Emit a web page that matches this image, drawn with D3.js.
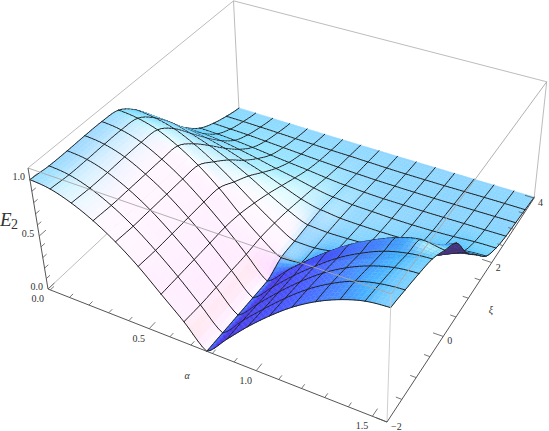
<!DOCTYPE html>
<html>
<head>
<meta charset="utf-8">
<script src="https://cdn.jsdelivr.net/npm/d3@7"></script>
<style>
  html, body { margin: 0; padding: 0; background: #fff; }
  svg { display: block; }
  text { font-family: "Liberation Serif", serif; fill: #333; }
</style>
</head>
<body>
<div id="chart"></div>
<script>
const width = 549, height = 431

const alphaNodes = [0, .098, .196, .295, .393, .491, .589, .687, .785, .884, .982, 1.08, 1.178, 1.276, 1.374, 1.473, 1.571]
const xiNodes = [-2, -1.538, -1.077, -.615, -.154, .308, .769, 1.231, 1.692, 2.154, 2.615, 3.077, 3.538, 4]

// E2, one row per xi node, one column per alpha node
const E = [
  [1, .98, .92, .83, .71, .56, .38, .2, 0, .19, .38, .55, .7, .82, .91, .97, .99],
  [.985, .966, .91, .82, .7, .55, .38, .19, 0, .19, .37, .54, .69, .81, .9, .95, .97],
  [.985, .966, .91, .82, .7, .55, .38, .19, 0, .18, .36, .525, .67, .785, .87, .925, .945],
  [.99, .97, .915, .82, .7, .55, .38, .19, 0, .175, .35, .505, .645, .755, .84, .89, .91],
  [.99, .97, .915, .82, .7, .55, .38, .19, 0, .17, .335, .485, .615, .72, .805, .855, .83],
  [.97, .95, .9, .81, .69, .54, .36, .2, .07, .09, .17, .26, .34, .42, .5, .58, .74],
  [.85, .83, .785, .7, .59, .46, .32, .19, .08, .08, .11, .15, .2, .26, .33, .42, .5],
  [.67, .66, .615, .555, .475, .38, .27, .17, .09, .08, .085, .095, .115, .15, .21, .3, .33],
  [.48, .47, .445, .4, .34, .28, .21, .14, .095, .075, .07, .07, .075, .09, .115, .15, .165],
  [.31, .305, .29, .26, .225, .185, .15, .11, .08, .065, .06, .055, .055, .06, .07, .085, .09],
  [.18, .176, .166, .15, .13, .112, .095, .075, .06, .05, .045, .045, .045, .047, .05, .052, .055],
  [.105, .1, .095, .086, .076, .066, .057, .048, .04, .035, .033, .032, .032, .034, .036, .038, .04],
  [.055, .054, .05, .046, .04, .036, .032, .03, .026, .022, .02, .02, .02, .022, .024, .025, .025],
  [.02, .02, .018, .017, .015, .014, .013, .012, .011, .01, .01, .01, .01, .01, .01, .01, .01]
]

const alphaTicks = [0, .1, .2, .3, .4, .5, .6, .7, .8, .9, 1, 1.1, 1.2, 1.3, 1.4, 1.5]
const alphaLabels = [0.5, 1.0, 1.5]
const xiTicks = [-2, -1.5, -1, -.5, 0, .5, 1, 1.5, 2, 2.5, 3, 3.5, 4]
const xiLabels = [-2, 0, 2, 4]
const eTicks = [0, .1, .2, .3, .4, .5, .6, .7, .8, .9, 1]
const eLabels = [0, .5, 1]

const alphaTickScale = d3.scaleLinear().domain([-.012, 1.56]).range([0, 1])
const xiScale = d3.scaleLinear().domain([-2, 4]).range([0, 1])
const eScale = d3.scaleLinear().domain([0, 1.1]).range([0, 1])

// camera: box corners on the page and perspective factors
const P0 = [48, 289], PA = [387, 422], PX = [239, 110], PE = [28, 168]
const sa = .881, sx = 1.208, se = .935

function project(a, x, e) {
  const w = 1 + (sa - 1) * a + (sx - 1) * x + (se - 1) * e
  const px = P0[0] + a * (sa * PA[0] - P0[0]) + x * (sx * PX[0] - P0[0]) + e * (se * PE[0] - P0[0])
  const py = P0[1] + a * (sa * PA[1] - P0[1]) + x * (sx * PX[1] - P0[1]) + e * (se * PE[1] - P0[1])
  return [px / w, py / w, w]
}

// view basis for the three box axes, (right, up, toward viewer)
const axisA = [317, -110, 136.5], axisX = [168, 201, -228], axisE = [-3, 123, 106]
const lenA = Math.hypot(...axisA), lenX = Math.hypot(...axisX), lenE = Math.hypot(...axisE)
const backColor = "#46327a"

function shade(ea, ex) {
  const Na = -lenE * ea / lenA, Nx = -lenE * ex / lenX, Ne = 1
  let n = [0, 1, 2].map(i => Na * axisA[i] / lenA + Nx * axisX[i] / lenX + Ne * axisE[i] / lenE)
  const l = Math.hypot(...n)
  n = n.map(v => v / l)
  // ambient plus red, green and blue directional lights
  const r = Math.max(.28, .12 + Math.max(0, (n[0] + n[2]) / Math.SQRT2))
  const g = .188 + .8 * Math.max(0, (n[0] + n[1] + n[2]) / Math.sqrt(3))
  const b = .47 + .8 * Math.max(0, (n[1] + n[2]) / Math.SQRT2)
  return d3.rgb(Math.min(1, r) * 255, Math.min(1, g) * 255, Math.min(1, b) * 255).formatHex()
}

function catmull(p0, p1, p2, p3, t) {
  return .5 * (2 * p1 + (p2 - p0) * t + (2 * p0 - 5 * p1 + 4 * p2 - p3) * t * t + (3 * p1 - p0 - 3 * p2 + p3) * t * t * t)
}

const cellsA = alphaNodes.length - 1, cellsX = xiNodes.length - 1
const subA = 5, subX = 5
const fold = cellsA / 2

// smooth height between table nodes, the crease at the middle alpha stays sharp
function height01(u, v) {
  const j = Math.min(Math.floor(u), cellsA - 1), k = Math.min(Math.floor(v), cellsX - 1)
  const lo = j < fold ? 0 : fold, hi = j < fold ? fold : cellsA
  const row = r => {
    const at = c => E[Math.max(0, Math.min(cellsX, r))][Math.max(lo, Math.min(hi, c))]
    return catmull(at(j - 1), at(j), at(j + 1), at(j + 2), u - j)
  }
  const e = catmull(row(k - 1), row(k), row(k + 1), row(k + 2), v - k)
  return eScale(Math.max(0, e))
}

const nA = cellsA * subA, nX = cellsX * subX
const fine = d3.range(nX + 1).map(m => d3.range(nA + 1).map(i => height01(i / subA, m / subX)))
const pt = (i, m) => project(i / nA, m / nX, fine[m][i])

const svg = d3.select("#chart").append("svg").attr("width", width).attr("height", height)

function edge(a1, x1, e1, a2, x2, e2, color, w) {
  const p = project(a1, x1, e1), q = project(a2, x2, e2)
  svg.append("line").attr("x1", p[0]).attr("y1", p[1]).attr("x2", q[0]).attr("y2", q[1])
    .attr("stroke", color).attr("stroke-width", w)
}

// back edges of the box
const boxColor = "#b4b4b4"
edge(0, 1, 0, 0, 1, 1, boxColor, .9)
edge(0, 1, 1, 1, 1, 1, boxColor, .9)
edge(0, 0, 1, 0, 1, 1, boxColor, .9)
edge(1, 1, 0, 1, 1, 1, boxColor, .9)
edge(0, 0, 0, 0, 1, 0, boxColor, .9)
edge(0, 1, 0, 1, 1, 0, boxColor, .9)

// surface: quads and mesh pieces sorted far to near
const items = []
const depth = (m, i) => {
  if (m < 0 || i < 0 || m >= nX || i >= nA) return Infinity
  return (pt(i, m)[2] + pt(i + 1, m)[2] + pt(i, m + 1)[2] + pt(i + 1, m + 1)[2]) / 4
}
for (let m = 0; m < nX; m++) {
  for (let i = 0; i < nA; i++) {
    const ea = (fine[m][i + 1] + fine[m + 1][i + 1] - fine[m][i] - fine[m + 1][i]) / 2 * nA
    const ex = (fine[m + 1][i] + fine[m + 1][i + 1] - fine[m][i] - fine[m][i + 1]) / 2 * nX
    const p00 = pt(i, m), p10 = pt(i + 1, m), p01 = pt(i, m + 1), p11 = pt(i + 1, m + 1)
    // a quad that turned over on the page shows its unlit underside
    const turned = (p11[0] - p00[0]) * (p01[1] - p10[1]) - (p11[1] - p00[1]) * (p01[0] - p10[0]) > 0
    items.push({
      z: depth(m, i),
      pts: [p00, p10, p11, p01],
      color: turned ? backColor : shade(ea, ex)
    })
  }
}
for (let m = 0; m < nX; m += subX) {
  for (let i = 0; i < nA; i++) {
    items.push({ z: Math.min(depth(m, i), depth(m - 1, i)) - 1e-5, seg: [pt(i, m), pt(i + 1, m)] })
  }
}
for (let i = 0; i <= nA; i += subA) {
  for (let m = 0; m < nX; m++) {
    items.push({ z: Math.min(depth(m, i), depth(m, i - 1)) - 1e-5, seg: [pt(i, m), pt(i, m + 1)] })
  }
}
items.sort((p, q) => q.z - p.z)

const line = d3.line().x(d => d[0]).y(d => d[1])
svg.append("g").selectAll("path").data(items).enter().append("path")
  .attr("d", d => d.seg ? line(d.seg) : line(d.pts) + "Z")
  .attr("fill", d => d.seg ? "none" : d.color)
  .attr("stroke", d => d.seg ? "#222" : d.color)
  .attr("stroke-width", d => d.seg ? 1 : .4)
  .attr("stroke-linecap", "round")

// front edges of the box stay on top of the surface
const frontColor = "#a8a8a8"
edge(0, 0, 1, 1, 0, 1, frontColor, .9)
edge(1, 0, 1, 1, 1, 1, frontColor, .9)
edge(1, 0, 0, 1, 0, 1, "#c8c8c8", .9)

// axes
const axisColor = "#555"
edge(0, 0, 0, 1, 0, 0, axisColor, 1)
edge(1, 0, 0, 1, 1, 0, axisColor, 1)
edge(0, 0, 0, 0, 0, 1, axisColor, 1)

alphaTicks.forEach(v => {
  const len = alphaLabels.includes(v) ? .028 : .016
  edge(alphaTickScale(v), 0, 0, alphaTickScale(v), len, 0, axisColor, .8)
})
xiTicks.forEach(v => {
  const len = xiLabels.includes(v) ? .028 : .016
  edge(1, xiScale(v), 0, 1 - len, xiScale(v), 0, axisColor, .8)
})
eTicks.forEach(v => {
  const len = eLabels.includes(v) ? .028 : .016
  edge(0, 0, eScale(v), 0, len, eScale(v), axisColor, .8)
})

const fmt = d3.format(".1f")
const label = (p, dx, dy, txt, anchor) => svg.append("text")
  .attr("x", p[0] + dx).attr("y", p[1] + dy).attr("font-size", 10)
  .attr("text-anchor", anchor).text(txt)

alphaLabels.forEach(v => label(project(alphaTickScale(v), 0, 0), -10.5, 13, fmt(v), "middle"))
label(project(0, 0, 0), -4, 12.5, fmt(0), "end")
xiLabels.forEach(v => label(project(1, xiScale(v), 0), 4, 8, String(v).replace("-", "\u2212"), "start"))
eLabels.forEach(v => label(project(0, 0, eScale(v)), -5, .5, fmt(v), "end"))

svg.append("text").attr("x", 187).attr("y", 379).attr("font-size", 10).attr("font-style", "italic")
  .attr("text-anchor", "middle").text("\u03b1")
svg.append("text").attr("x", 491).attr("y", 313).attr("font-size", 10).attr("font-style", "italic")
  .attr("text-anchor", "middle").text("\u03be")
svg.append("text").attr("x", 0).attr("y", 226).attr("font-size", 19).attr("font-style", "italic").text("E")
svg.append("text").attr("x", 11).attr("y", 229).attr("font-size", 14).text("2")
</script>
</body>
</html>
